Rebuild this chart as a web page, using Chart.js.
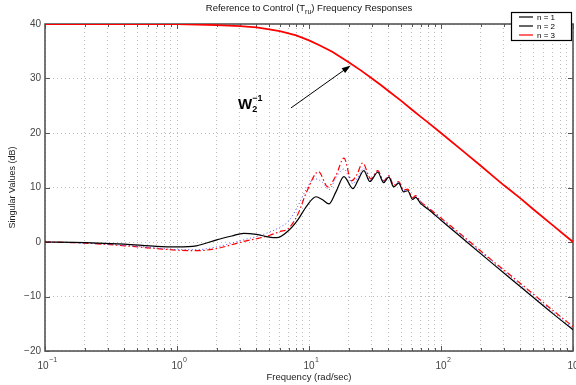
<!DOCTYPE html>
<html>
<head>
<meta charset="utf-8">
<title>Reference to Control Frequency Responses</title>
<script src="https://cdn.jsdelivr.net/npm/chart.js@4.4.1/dist/chart.umd.min.js"></script>
<style>
  html, body { margin: 0; padding: 0; background: #fff; }
  #wrap { width: 576px; height: 385px; }
</style>
</head>
<body>
<div id="wrap"><canvas id="freqChart" width="576" height="385"></canvas></div>
<script>
/* Singular values of T_ru for n = 1, 2, 3 plus the weight W2^-1 */

// n = 1 (black solid)
const FREQ_N1 = [0.1, 0.2, 0.4, 0.7, 1.0, 1.4, 2.0, 2.6, 3.2, 4.0, 5.0, 5.7, 7.0, 8.2, 9.6,
                 11.3, 12.6, 14.2, 16.0, 18.4, 21.5, 23.5, 26.0, 28.9, 33.2, 36.8, 40.2, 43.8,
                 47.8, 52.1, 55.9, 61.0, 64.3, 70.0, 80, 100, 150, 236, 400, 700, 1000];
const DB_N1   = [0, -0.1, -0.4, -0.8, -0.9, -0.7, 0.4, 1.1, 1.6, 1.4, 0.9, 0.8, 2.1, 4.0, 6.6,
                 8.3, 7.8, 7.0, 9.2, 12.0, 9.8, 11.3, 13.1, 11.1, 12.8, 10.9, 11.9, 10.1,
                 10.8, 9.2, 9.4, 7.8, 8.2, 7.1, 6.0, 4.0, 0.4, -3.6, -8.2, -13.1, -16.1];

// n = 2 (blue dotted)
const FREQ_N2 = [0.1, 0.2, 0.4, 0.7, 1.0, 1.4, 2.0, 2.6, 3.2, 4.0, 5.0, 6.0, 7.0, 8.2, 9.6,
                 11.0, 12.6, 14.2, 16.0, 18.4, 21.5, 23.5, 26.0, 28.9, 33.2, 36.8, 40.2, 43.8,
                 47.8, 52.1, 55.9, 61.0, 64.3, 70.0, 80, 100, 150, 236, 400, 700, 1000];
const DB_N2   = [0, -0.2, -0.6, -1.1, -1.4, -1.4, -0.9, -0.2, 0.4, 1.0, 1.8, 2.7, 3.8, 6.5, 9.8,
                 11.6, 11.0, 9.6, 11.8, 13.4, 10.7, 11.9, 13.5, 11.3, 13.0, 11.1, 12.1, 10.3,
                 11.0, 9.4, 9.6, 8.0, 8.4, 7.3, 6.2, 4.2, 0.7, -3.3, -7.9, -12.8, -15.8];

// n = 3 (red dash-dot)
const FREQ_N3 = [0.1, 0.2, 0.4, 0.7, 1.0, 1.4, 2.0, 2.6, 3.2, 4.0, 5.0, 6.0, 7.0, 8.2, 9.6,
                 11.8, 13.9, 16.0, 18.4, 21.0, 23.0, 25.5, 29.4, 33.2, 36.8, 40.2, 43.8, 47.8,
                 52.1, 55.9, 61.0, 64.3, 70.0, 80, 100, 150, 236, 400, 700, 1000];
const DB_N3   = [0, -0.2, -0.7, -1.2, -1.5, -1.6, -1.2, -0.5, 0.1, 0.6, 1.2, 1.9, 2.5, 5.0, 9.2,
                 12.9, 10.1, 12.2, 15.4, 11.2, 12.3, 14.5, 11.6, 13.1, 11.2, 12.2, 10.4, 11.1,
                 9.5, 9.7, 8.1, 8.5, 7.4, 6.3, 4.4, 0.9, -3.1, -7.6, -12.5, -15.5];

// W2^-1 (thick red)
const FREQ_W = [0.1, 0.3, 1, 2, 3, 4, 5, 6, 7, 8, 10, 12, 15, 20, 25, 30, 35, 40, 50, 60, 70,
                80, 100, 150, 200, 250, 300, 400, 500, 700, 1000];
const DB_W   = [40, 40, 40, 39.8, 39.6, 39.4, 39.0, 38.7, 38.3, 37.9, 37.0, 36.1, 34.9, 33.0,
                31.4, 30.0, 28.8, 27.7, 25.9, 24.3, 23.0, 21.9, 20.0, 16.5, 14.0, 12.0, 10.4,
                8.0, 6.0, 3.1, 0];

const X_DECADES = [-1, 0, 1, 2, 3];
const X_GRID = [];
for (let e = -1; e < 3; e++) for (let m = 1; m < 10; m++) X_GRID.push(m * Math.pow(10, e));
X_GRID.push(1000);

const LEGEND_LABELS = ['n = 1', 'n = 2', 'n = 3'];
const LEGEND_COLORS = ['#000000', '#000000', '#ff0000'];

const TITLE_PARTS = ['Reference to Control (T', 'ru', ') Frequency Responses'];
const X_TITLE = 'Frequency (rad/sec)';
const Y_TITLE = 'Singular Values (dB)';

// annotation anchors, in data units (rad/s, dB)
const ANNOT_TEXT = [2.9, 24.4];
const ARROW_FROM = [7.3, 24.6];
const ARROW_TO   = [20.7, 32.4];

const FONT = "'Liberation Sans', Arial, sans-serif";

const pts = (fx, fy) => fx.map((f, i) => ({ x: f, y: fy[i] }));

const decor = {
  id: 'decor',
  beforeDatasetsDraw(chart) {
    const { ctx, chartArea: a, scales: { x, y } } = chart;
    ctx.save();
    ctx.strokeStyle = '#555';
    ctx.lineWidth = 1;
    // tick marks inside the box
    X_GRID.forEach(v => {
      const px = Math.round(x.getPixelForValue(v)) + 0.5;
      const len = X_DECADES.some(d => Math.abs(Math.log10(v) - d) < 1e-9) ? 5 : 3;
      ctx.beginPath();
      ctx.moveTo(px, a.bottom); ctx.lineTo(px, a.bottom - len);
      ctx.moveTo(px, a.top); ctx.lineTo(px, a.top + len);
      ctx.stroke();
    });
    y.ticks.forEach(t => {
      const py = Math.round(y.getPixelForValue(t.value)) + 0.5;
      ctx.beginPath();
      ctx.moveTo(a.left, py); ctx.lineTo(a.left + 5, py);
      ctx.moveTo(a.right, py); ctx.lineTo(a.right - 5, py);
      ctx.stroke();
    });
    ctx.lineWidth = 1.6;
    ctx.strokeRect(a.left, a.top, a.right - a.left, a.bottom - a.top);
    ctx.restore();
  },
  afterDraw(chart) {
    const { ctx, chartArea: a, scales: { x, y } } = chart;
    ctx.save();
    ctx.textBaseline = 'alphabetic';

    // title with subscript
    ctx.fillStyle = '#111';
    const big = '9.5px ' + FONT, small = '7px ' + FONT;
    ctx.font = big; const w0 = ctx.measureText(TITLE_PARTS[0]).width;
    const w2 = ctx.measureText(TITLE_PARTS[2]).width;
    ctx.font = small; const w1 = ctx.measureText(TITLE_PARTS[1]).width;
    let tx = (a.left + a.right) / 2 - (w0 + w1 + w2) / 2;
    const ty = 11;
    ctx.font = big; ctx.textAlign = 'left';
    ctx.fillText(TITLE_PARTS[0], tx, ty); tx += w0;
    ctx.font = small; ctx.fillText(TITLE_PARTS[1], tx, ty + 3); tx += w1;
    ctx.font = big; ctx.fillText(TITLE_PARTS[2], tx, ty);

    // x tick labels 10^k
    ctx.fillStyle = '#444';
    X_DECADES.forEach(k => {
      const px = x.getPixelForValue(Math.pow(10, k));
      const exp = k < 0 ? '\u2212' + (-k) : String(k);
      ctx.font = '10px ' + FONT; const wb = ctx.measureText('10').width;
      ctx.font = '7px ' + FONT; const we = ctx.measureText(exp).width;
      const sx = px - (wb + we) / 2 + 2;
      ctx.font = '10px ' + FONT; ctx.fillText('10', sx, a.bottom + 18);
      ctx.font = '7px ' + FONT; ctx.fillText(exp, sx + wb + 0.5, a.bottom + 11);
    });

    // axis titles
    ctx.fillStyle = '#222';
    ctx.font = '9.5px ' + FONT;
    ctx.textAlign = 'center';
    ctx.fillText(X_TITLE, (a.left + a.right) / 2, a.bottom + 29);
    ctx.save();
    ctx.translate(15, (a.top + a.bottom) / 2);
    ctx.rotate(-Math.PI / 2);
    ctx.font = '9px ' + FONT;
    ctx.fillText(Y_TITLE, 0, 0);
    ctx.restore();

    // W2^-1 annotation and arrow
    ctx.fillStyle = '#000';
    ctx.textAlign = 'left';
    const ax = x.getPixelForValue(ANNOT_TEXT[0]), ay = y.getPixelForValue(ANNOT_TEXT[1]);
    ctx.font = 'bold 15px ' + FONT;
    ctx.fillText('W', ax, ay);
    const ww = ctx.measureText('W').width;
    ctx.font = 'bold 9px ' + FONT;
    ctx.fillText('2', ax + ww, ay + 3);
    ctx.fillText('\u22121', ax + ww, ay - 8);

    const fx = x.getPixelForValue(ARROW_FROM[0]), fy = y.getPixelForValue(ARROW_FROM[1]);
    const ex = x.getPixelForValue(ARROW_TO[0]), ey = y.getPixelForValue(ARROW_TO[1]);
    const ang = Math.atan2(ey - fy, ex - fx);
    ctx.strokeStyle = '#000'; ctx.lineWidth = 1;
    ctx.beginPath(); ctx.moveTo(fx, fy); ctx.lineTo(ex - 6 * Math.cos(ang), ey - 6 * Math.sin(ang)); ctx.stroke();
    ctx.beginPath();
    ctx.moveTo(ex, ey);
    ctx.lineTo(ex - 9 * Math.cos(ang) + 3 * Math.sin(ang), ey - 9 * Math.sin(ang) - 3 * Math.cos(ang));
    ctx.lineTo(ex - 9 * Math.cos(ang) - 3 * Math.sin(ang), ey - 9 * Math.sin(ang) + 3 * Math.cos(ang));
    ctx.closePath(); ctx.fill();

    // legend box
    const lw = 60, lh = 28;
    const lx = a.right - lw - 2, ly = a.top - 12;
    ctx.fillStyle = '#fff';
    ctx.fillRect(lx, ly, lw, lh);
    ctx.strokeStyle = '#000'; ctx.lineWidth = 1.2;
    ctx.strokeRect(lx + 0.5, ly + 0.5, lw, lh);
    ctx.font = '8px ' + FONT;
    LEGEND_LABELS.forEach((lab, i) => {
      const ry = ly + 5 + i * 9;
      ctx.strokeStyle = LEGEND_COLORS[i];
      ctx.lineWidth = 1.2;
      ctx.beginPath(); ctx.moveTo(lx + 8, ry); ctx.lineTo(lx + 22, ry); ctx.stroke();
      ctx.fillStyle = '#000';
      ctx.fillText(lab, lx + 26, ry + 3);
    });
    ctx.restore();
  }
};

new Chart(document.getElementById('freqChart'), {
  type: 'line',
  data: {
    datasets: [
      {
        label: 'n = 1', data: pts(FREQ_N1, DB_N1),
        borderColor: '#000000', borderWidth: 1.2,
        pointRadius: 0, fill: false, cubicInterpolationMode: 'monotone',
      },
      {
        label: 'n = 2', data: pts(FREQ_N2, DB_N2),
        borderColor: '#5050ff', borderWidth: 1, borderDash: [1, 2.5],
        pointRadius: 0, fill: false, cubicInterpolationMode: 'monotone',
      },
      {
        label: 'n = 3', data: pts(FREQ_N3, DB_N3),
        borderColor: '#ff0000', borderWidth: 1.2, borderDash: [6, 2.5, 1.5, 2.5],
        pointRadius: 0, fill: false, cubicInterpolationMode: 'monotone',
      },
      {
        label: 'W2^-1', data: pts(FREQ_W, DB_W),
        borderColor: '#ff0000', borderWidth: 1.8,
        pointRadius: 0, fill: false, tension: 0,
      },
    ],
  },
  options: {
    responsive: false, animation: false, devicePixelRatio: 1,
    layout: { padding: { top: 24, right: 3, left: 0, bottom: 0 } },
    plugins: { legend: { display: false }, tooltip: { enabled: false }, title: { display: false } },
    scales: {
      x: {
        type: 'logarithmic', min: 0.1, max: 1000,
        afterBuildTicks: s => { s.ticks = X_GRID.map(v => ({ value: v })); },
        afterFit: s => { s.height = 34; },
        ticks: { display: false },
        grid: { color: '#bbb', lineWidth: 1, drawTicks: false },
        border: { display: false, dash: [1, 3] },
      },
      y: {
        min: -20, max: 40,
        afterFit: s => { s.width = 45; },
        ticks: {
          stepSize: 10, padding: 4, color: '#444',
          font: { family: FONT, size: 10 },
          callback: v => (v < 0 ? '\u2212' + (-v) : String(v)),
        },
        grid: { color: '#bbb', lineWidth: 1, drawTicks: false },
        border: { display: false, dash: [1, 3] },
      },
    },
  },
  plugins: [decor],
});
</script>
</body>
</html>
